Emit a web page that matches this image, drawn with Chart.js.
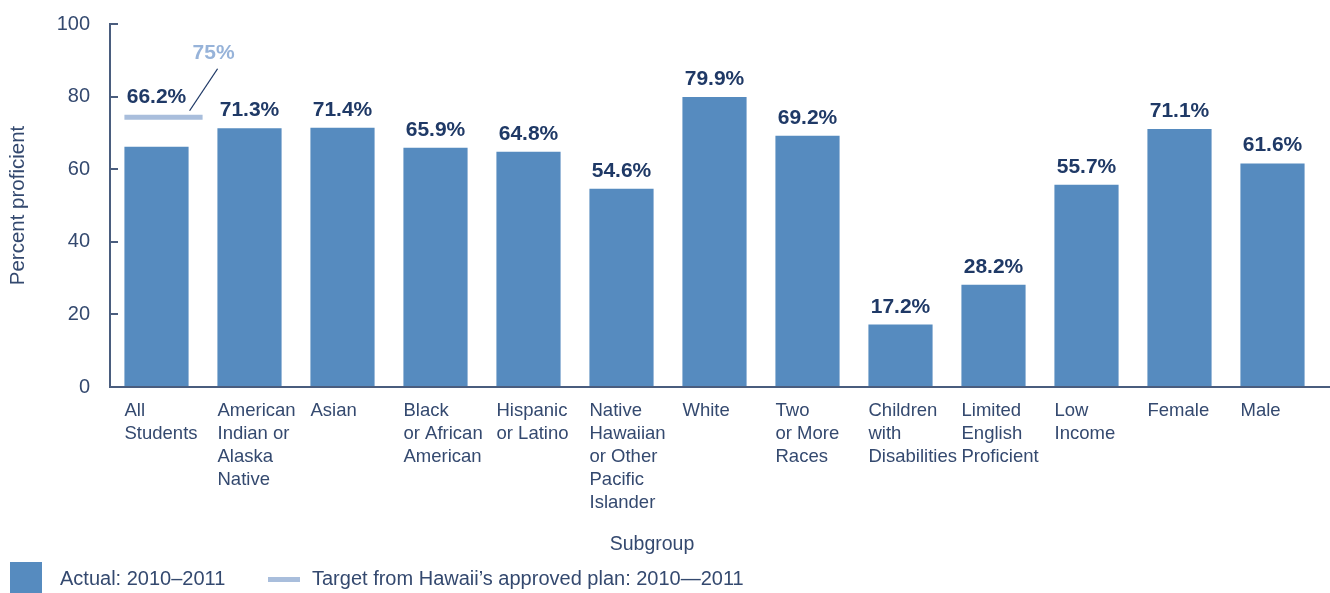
<!DOCTYPE html>
<html>
<head>
<meta charset="utf-8">
<script src="https://cdn.jsdelivr.net/npm/chart.js@4/dist/chart.umd.min.js"></script>
<style>
  html, body { margin: 0; padding: 0; background: #ffffff; }
  #wrap { position: relative; width: 1330px; height: 593px; }
</style>
</head>
<body>
<div id="wrap"><canvas id="chart" width="1330" height="593"></canvas></div>
<script>
// Subgroup names (multi-line tick labels)
const categories = [
  ["All", "Students"],
  ["American", "Indian or", "Alaska", "Native"],
  ["Asian"],
  ["Black", "or African", "American"],
  ["Hispanic", "or Latino"],
  ["Native", "Hawaiian", "or Other", "Pacific", "Islander"],
  ["White"],
  ["Two", "or More", "Races"],
  ["Children", "with", "Disabilities"],
  ["Limited", "English", "Proficient"],
  ["Low", "Income"],
  ["Female"],
  ["Male"]
];

// Percent proficient, 2010–2011
const actualValues = [66.2, 71.3, 71.4, 65.9, 64.8, 54.6, 79.9, 69.2, 17.2, 28.2, 55.7, 71.1, 61.6];

// Target from the approved plan (applies to All Students)
const targetCategoryIndex = 0;
const targetValue = 75;

const yTickValues = [0, 20, 40, 60, 80, 100];

const FONT = '"Liberation Sans", Arial, Helvetica, sans-serif';
const AXIS_COLOR = '#4a5d7e';
const TEXT_COLOR = '#34496f';
const LABEL_COLOR = '#1f3966';
const BAR_COLOR = '#568bbf';
const TARGET_COLOR = '#a9bedc';
const TARGET_TEXT = '#97b3d9';

const overlay = {
  id: 'overlay',
  afterDraw(chart) {
    const ctx = chart.ctx;
    const y = chart.scales.y;
    const area = chart.chartArea;
    const meta = chart.getDatasetMeta(0);
    ctx.save();

    // axes: value axis from the top tick down, baseline to the right edge
    const top = Math.round(y.getPixelForValue(100));
    const base = Math.round(y.getPixelForValue(0));
    ctx.strokeStyle = AXIS_COLOR;
    ctx.lineWidth = 2;
    ctx.beginPath();
    ctx.moveTo(area.left, top);
    ctx.lineTo(area.left, base);
    ctx.lineTo(chart.width, base);
    ctx.stroke();

    // inward tick marks on the value axis
    yTickValues.forEach(v => {
      const py = Math.round(y.getPixelForValue(v));
      ctx.beginPath();
      ctx.moveTo(area.left - 1, py);
      ctx.lineTo(area.left + 8, py);
      ctx.stroke();
    });

    // target marker
    const tb = meta.data[targetCategoryIndex];
    const tw = tb.width;
    const ty = y.getPixelForValue(targetValue);
    const tx0 = tb.x - tw / 2;
    const tx1 = tb.x + tw / 2 + 14;
    ctx.fillStyle = TARGET_COLOR;
    ctx.fillRect(tx0, ty, tx1 - tx0, 5);

    // leader to the target value label
    ctx.strokeStyle = LABEL_COLOR;
    ctx.lineWidth = 1.3;
    ctx.beginPath();
    ctx.moveTo(tb.x + tw / 2 + 1, ty - 4);
    ctx.lineTo(tb.x + tw / 2 + 29, ty - 46);
    ctx.stroke();

    ctx.font = 'bold 21px ' + FONT;
    ctx.fillStyle = TARGET_TEXT;
    ctx.textAlign = 'center';
    ctx.textBaseline = 'middle';
    ctx.fillText(targetValue + '%', tb.x + tw / 2 + 25, ty - 62);

    // value labels
    ctx.fillStyle = LABEL_COLOR;
    ctx.textBaseline = 'alphabetic';
    meta.data.forEach((bar, i) => {
      const txt = actualValues[i].toFixed(1) + '%';
      let by = bar.y - 12;
      if (i === targetCategoryIndex) by = ty - 12;
      ctx.fillText(txt, bar.x, by);
    });

    // category axis title
    ctx.font = '19.5px ' + FONT;
    ctx.fillStyle = TEXT_COLOR;
    ctx.textAlign = 'center';
    ctx.textBaseline = 'middle';
    ctx.fillText('Subgroup', 652, 545);

    // legend
    const ds = chart.data.datasets[0];
    ctx.font = '20px ' + FONT;
    ctx.fillStyle = ds.backgroundColor;
    ctx.fillRect(10, 562, 32, 32);
    ctx.fillStyle = TEXT_COLOR;
    ctx.textAlign = 'left';
    ctx.fillText(ds.label, 60, 579);
    ctx.fillStyle = TARGET_COLOR;
    ctx.fillRect(268, 577, 32, 5);
    ctx.fillStyle = TEXT_COLOR;
    ctx.fillText('Target from Hawaii\u2019s approved plan: 2010\u20142011', 312, 579);

    ctx.restore();
  }
};

new Chart(document.getElementById('chart'), {
  type: 'bar',
  data: {
    labels: categories,
    datasets: [{
      label: 'Actual: 2010\u20132011',
      data: actualValues,
      backgroundColor: BAR_COLOR,
      borderWidth: 0,
      barPercentage: 0.69,
      categoryPercentage: 1
    }]
  },
  options: {
    responsive: false,
    animation: false,
    devicePixelRatio: 1,
    layout: { padding: { top: 24, right: 11, left: 0, bottom: 0 } },
    plugins: {
      legend: { display: false },
      tooltip: { enabled: false },
      title: { display: false }
    },
    scales: {
      x: {
        type: 'category',
        offset: true,
        grid: { display: false, drawTicks: false },
        border: { display: false },
        ticks: {
          autoSkip: false,
          maxRotation: 0,
          minRotation: 0,
          align: 'start',
          labelOffset: -32,
          padding: 12,
          color: TEXT_COLOR,
          font: { family: FONT, size: 18.5, lineHeight: 1.25 }
        },
        afterFit(scale) {
          scale.height = 206;
          scale.paddingLeft = 0;
          scale.paddingRight = 0;
        }
      },
      y: {
        min: 0,
        max: 100,
        grid: { display: false, drawTicks: false },
        border: { display: false },
        afterBuildTicks(scale) {
          scale.ticks = yTickValues.map(v => ({ value: v }));
        },
        ticks: {
          padding: 20,
          color: TEXT_COLOR,
          font: { family: FONT, size: 20 }
        },
        title: {
          display: true,
          text: 'Percent proficient',
          color: TEXT_COLOR,
          font: { family: FONT, size: 20.5 },
          padding: { top: 6, bottom: 0 }
        },
        afterFit(scale) {
          scale.width = 110;
          scale.paddingTop = 0;
          scale.paddingBottom = 0;
        }
      }
    }
  },
  plugins: [overlay]
});
</script>
</body>
</html>
